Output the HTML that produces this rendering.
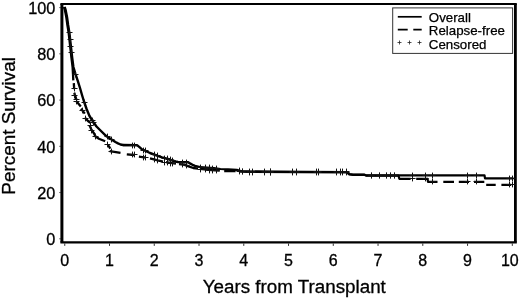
<!DOCTYPE html>
<html><head><meta charset="utf-8"><title>Survival</title>
<style>html,body{margin:0;padding:0;background:#fff;overflow:hidden}body{width:520px;height:299px;position:relative}</style></head>
<body>
<svg width="520" height="299" viewBox="0 0 520 299" style="position:absolute;left:0;top:0">
<path d="M60.4,3.95H516.8M60.4,242.4H516.8" fill="none" stroke="#000" stroke-width="2.1"/>
<path d="M61.9,3.95V242.4" fill="none" stroke="#000" stroke-width="3"/>
<path d="M515.4,3.95V242.4" fill="none" stroke="#000" stroke-width="2.8"/>
<path d="M64.75,243.4V245.9M109.50,243.4V245.9M154.26,243.4V245.9M199.02,243.4V245.9M243.77,243.4V245.9M288.52,243.4V245.9M333.28,243.4V245.9M378.04,243.4V245.9M422.79,243.4V245.9M467.55,243.4V245.9M512.30,243.4V245.9M59.4,238.80H61M59.4,192.56H61M59.4,146.32H61M59.4,100.08H61M59.4,53.84H61M59.4,7.60H61" stroke="#333" stroke-width="1" fill="none"/>
<polyline points="64.6,7.0 65.6,10.0 67.0,17.0 68.1,25.0 69.4,33.0 70.4,42.0 71.3,50.0 72.2,58.0 73.4,67.0 75.5,74.0 78.0,81.7 80.0,88.0 82.0,95.0 84.0,101.5 86.6,109.0 89.5,116.0 93.0,121.6 96.5,126.5 100.0,130.0 106.5,136.3 110.0,138.6 115.4,142.0 118.0,143.4 120.5,144.5 123.0,145.0 137.0,145.1" fill="none" stroke="#000" stroke-width="2.4" stroke-linejoin="round"/>
<polyline points="123.0,145.0 137.0,145.1 139.5,147.2 142.0,149.4 145.0,150.7 150.0,153.0 157.7,155.8 162.0,157.3 167.9,159.0 172.0,160.4 175.5,161.5 178.0,162.0 188.2,162.2 190.0,163.4 193.3,165.2 195.0,165.9 200.0,167.1" fill="none" stroke="#000" stroke-width="2.4" stroke-linejoin="round"/>
<polyline points="200.0,167.1 207.0,167.7 214.0,168.2 220.4,169.0 228.0,169.4 236.9,169.8 240.7,171.0 250.0,171.4 270.0,171.7 347.5,172.0 349.0,174.0 353.0,174.5 364.0,174.5 366.0,175.3 484.5,175.3 485.0,178.4 513.5,178.4" fill="none" stroke="#000" stroke-width="2.2" stroke-linejoin="round"/>
<path d="M63.9,7.0 L64.9,10.0 L66.3,17.0 L67.4,25.0 L68.7,33.0 L69.7,42.0 L70.6,50.0 L71.5,58.0 L72.6,67.0 L73.0,74.0 L73.3,80.4M73.8,83.2 L74.2,89.2M74.4,92.8 L75.0,96.0 L76.4,99.2M76.4,101.2 L80.8,106.4M81.0,108.8 L84.8,113.6M84.8,117.6 L88.0,121.0 L90.4,122.8M89.6,125.6 L91.3,129.3 L94.4,134.0 L95.3,136.3 L98.9,138.8 L105.2,141.3M107.8,144.5 L110.3,148.6M109.7,151.2 L120.5,152.8M126.8,154.3 L134.4,155.0M138.9,156.6 L145.9,157.6M150.0,158.4 L157.7,160.4 L163.0,161.6M166.0,162.1 L170.4,162.8 L176.0,163.6M179.0,164.1 L184.0,164.7 L189.4,166.7 L193.3,168.0 L198.0,168.6M200.0,168.9 L211.5,170.0 L219.8,170.5M224.2,171.0 L235.6,171.1" fill="none" stroke="#000" stroke-width="2.3" stroke-linejoin="round"/>
<path d="M239.0,171.5 L240.7,171.7 L250.0,171.9 L347.0,172.3 L349.0,174.3 L353.0,174.8 L364.0,174.8 L366.0,175.6 L398.5,175.6 L399.3,178.8 L410.6,178.8M416.2,178.8 L427.6,178.8 L428.0,181.9 L437.5,181.9M443.3,181.9 L454.0,181.9M458.8,181.9 L469.0,181.9M474.0,181.9 L484.3,181.9M486.2,184.8 L495.7,184.8M501.4,184.8 L511.2,184.8" fill="none" stroke="#000" stroke-width="2.2" stroke-linejoin="round"/>
<path d="M66.5,32.5h6M69.5,29.6v5.8M67.5,39.5h6M70.5,36.6v5.8M67.5,46.5h6M70.5,43.6v5.8M68.5,52.5h6M71.5,49.6v5.8M72.5,74.5h6M75.5,71.6v5.8M81.5,102.5h6M84.5,99.6v5.8M89.5,120.5h6M92.5,117.6v5.8M90.5,122.5h6M93.5,119.6v5.8M71.5,88.5h6M74.5,85.6v5.8M71.5,95.5h6M74.5,92.6v5.8M73.5,99.5h6M76.5,96.6v5.8M73.5,101.5h6M76.5,98.6v5.8M79.5,110.5h6M82.5,107.6v5.8M82.5,118.5h6M85.5,115.6v5.8M87.5,125.5h6M90.5,122.6v5.8M88.5,130.5h6M91.5,127.6v5.8M92.5,136.5h6M95.5,133.6v5.8M104.5,136.5h6M107.5,133.6v5.8M104.5,144.5h6M107.5,141.6v5.8M108.5,139.5h6M111.5,136.6v5.8M108.5,151.5h6M111.5,148.6v5.8M129.5,145.5h6M132.5,142.6v5.8M129.5,154.5h6M132.5,151.6v5.8M131.5,145.5h6M134.5,142.6v5.8M131.5,154.5h6M134.5,151.6v5.8M140.5,150.5h6M143.5,147.6v5.8M140.5,157.5h6M143.5,154.6v5.8M142.5,150.5h6M145.5,147.6v5.8M142.5,157.5h6M145.5,154.6v5.8M151.5,154.5h6M154.5,151.6v5.8M151.5,159.5h6M154.5,156.6v5.8M154.5,155.5h6M157.5,152.6v5.8M154.5,160.5h6M157.5,157.6v5.8M161.5,158.5h6M164.5,155.6v5.8M161.5,162.5h6M164.5,159.6v5.8M164.5,158.5h6M167.5,155.6v5.8M164.5,162.5h6M167.5,159.6v5.8M167.5,159.5h6M170.5,156.6v5.8M167.5,163.5h6M170.5,160.6v5.8M169.5,160.5h6M172.5,157.6v5.8M169.5,163.5h6M172.5,160.6v5.8M179.5,162.5h6M182.5,159.6v5.8M179.5,164.5h6M182.5,161.6v5.8M183.5,162.5h6M186.5,159.6v5.8M183.5,165.5h6M186.5,162.6v5.8M197.5,167.5h6M200.5,164.6v5.8M197.5,169.5h6M200.5,166.6v5.8M202.5,167.5h6M205.5,164.6v5.8M202.5,169.5h6M205.5,166.6v5.8M206.5,167.5h6M209.5,164.6v5.8M206.5,170.5h6M209.5,167.6v5.8M209.5,168.5h6M212.5,165.6v5.8M209.5,170.5h6M212.5,167.6v5.8M213.5,168.5h6M216.5,165.6v5.8M213.5,170.5h6M216.5,167.6v5.8M236.5,170.5h6M239.5,167.6v5.8M236.5,171.5h6M239.5,168.6v5.8M239.5,171.5h6M242.5,168.6v5.8M239.5,171.5h6M242.5,168.6v5.8M246.5,171.5h6M249.5,168.6v5.8M246.5,172.5h6M249.5,169.6v5.8M249.5,171.5h6M252.5,168.6v5.8M249.5,172.5h6M252.5,169.6v5.8M261.5,171.5h6M264.5,168.6v5.8M261.5,172.5h6M264.5,169.6v5.8M267.5,171.5h6M270.5,168.6v5.8M267.5,172.5h6M270.5,169.6v5.8M267.5,171.5h6M270.5,168.6v5.8M267.5,172.5h6M270.5,169.6v5.8M289.5,171.5h6M292.5,168.6v5.8M289.5,172.5h6M292.5,169.6v5.8M293.5,171.5h6M296.5,168.6v5.8M293.5,172.5h6M296.5,169.6v5.8M313.5,171.5h6M316.5,168.6v5.8M313.5,172.5h6M316.5,169.6v5.8M315.5,171.5h6M318.5,168.6v5.8M315.5,172.5h6M318.5,169.6v5.8M333.5,171.5h6M336.5,168.6v5.8M333.5,172.5h6M336.5,169.6v5.8M337.5,171.5h6M340.5,168.6v5.8M337.5,172.5h6M340.5,169.6v5.8M339.5,171.5h6M342.5,168.6v5.8M339.5,172.5h6M342.5,169.6v5.8M343.5,171.5h6M346.5,168.6v5.8M343.5,172.5h6M346.5,169.6v5.8M368.5,175.5h6M371.5,172.6v5.8M368.5,175.5h6M371.5,172.6v5.8M376.5,175.5h6M379.5,172.6v5.8M376.5,175.5h6M379.5,172.6v5.8M383.5,175.5h6M386.5,172.6v5.8M383.5,175.5h6M386.5,172.6v5.8M387.5,175.5h6M390.5,172.6v5.8M387.5,175.5h6M390.5,172.6v5.8M391.5,175.5h6M394.5,172.6v5.8M391.5,175.5h6M394.5,172.6v5.8M409.5,175.5h6M412.5,172.6v5.8M409.5,178.5h6M412.5,175.6v5.8M422.5,175.5h6M425.5,172.6v5.8M422.5,178.5h6M425.5,175.6v5.8M429.5,175.5h6M432.5,172.6v5.8M429.5,181.5h6M432.5,178.6v5.8M464.5,175.5h6M467.5,172.6v5.8M464.5,181.5h6M467.5,178.6v5.8M473.5,175.5h6M476.5,172.6v5.8M473.5,181.5h6M476.5,178.6v5.8M506.5,178.5h6M509.5,175.6v5.8M506.5,184.5h6M509.5,181.6v5.8M509.5,178.5h6M512.5,175.6v5.8M509.5,184.5h6M512.5,181.6v5.8" stroke="#111" stroke-width="1" fill="none"/>
<rect x="392.7" y="7.9" width="119.9" height="45.5" fill="#fff" stroke="#333" stroke-width="1"/>
<path d="M397.8,16.8H421.7" stroke="#000" stroke-width="1.7"/>
<path d="M397.8,29.6H407.7M413.3,29.6H421.7" stroke="#000" stroke-width="1.7"/>
<path d="M397.5,42.5h4m-2,-2v4M407.5,42.5h4m-2,-2v4M417.5,42.5h4m-2,-2v4" stroke="#222" stroke-width="0.8" fill="none"/>
<g font-family="Liberation Sans, Arial, sans-serif" fill="#000" stroke="#000" stroke-width="0.3">
<g font-size="13.3px" stroke-width="0.25"><text x="428.8" y="22.3">Overall</text><text x="428.8" y="35.3">Relapse-free</text><text x="428.8" y="48.9">Censored</text></g>
<g font-size="16.3px" text-anchor="end">
<text x="55.4" y="245.1">0</text>
<text x="55.4" y="198.8">20</text>
<text x="55.4" y="152.5">40</text>
<text x="55.4" y="106.2">60</text>
<text x="55.4" y="59.9">80</text>
<text x="55.4" y="13.6">100</text>
</g><g font-size="16px" text-anchor="middle">
<text x="64.8" y="265.6">0</text>
<text x="109.5" y="265.6">1</text>
<text x="154.3" y="265.6">2</text>
<text x="199.0" y="265.6">3</text>
<text x="243.8" y="265.6">4</text>
<text x="288.5" y="265.6">5</text>
<text x="333.3" y="265.6">6</text>
<text x="378.0" y="265.6">7</text>
<text x="422.8" y="265.6">8</text>
<text x="467.5" y="265.6">9</text>
<text x="509.8" y="265.6">10</text>
</g>
<text x="294.3" y="293" font-size="18.8px" text-anchor="middle">Years from Transplant</text>
<text transform="translate(15.3,125.9) rotate(-90)" font-size="18.9px" text-anchor="middle">Percent Survival</text>
</g></svg>
</body></html>
